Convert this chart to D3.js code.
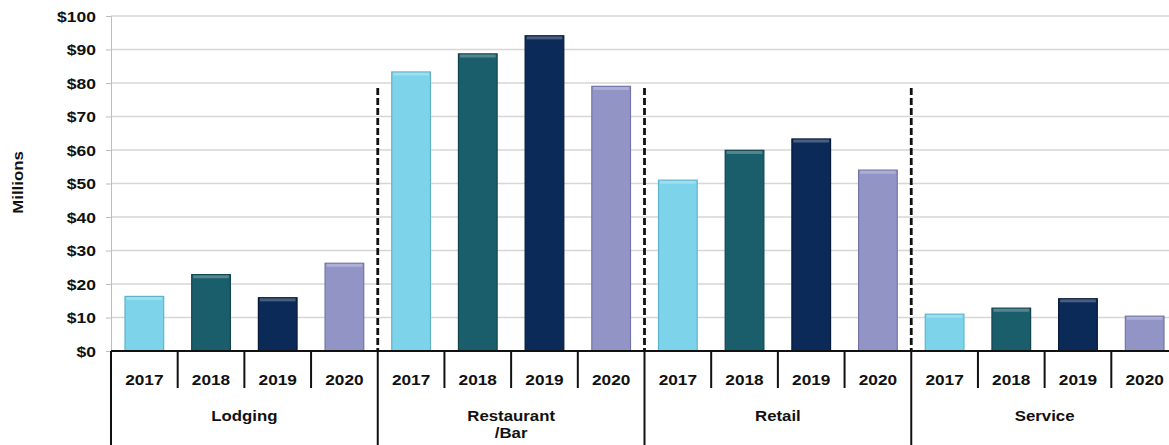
<!DOCTYPE html>
<html>
<head>
<meta charset="utf-8">
<script src="https://cdn.jsdelivr.net/npm/d3@7"></script>
<style>
  body { margin: 0; background: #fff; }
  text { font-family: "Liberation Sans", Arial, sans-serif; font-weight: bold; fill: #111; font-size: 14px; }
</style>
</head>
<body>
<svg id="chart"></svg>
<script>
var groups = ["Lodging", "Restaurant\n/Bar", "Retail", "Service"];
var years = ["2017", "2018", "2019", "2020"];
var v2017 = [16.3, 83.3, 51.0, 11.0];
var v2018 = [22.8, 88.7, 59.9, 12.8];
var v2019 = [15.9, 94.1, 63.3, 15.6];
var v2020 = [26.2, 79.0, 54.0, 10.4];
var yTicks = [0, 10, 20, 30, 40, 50, 60, 70, 80, 90, 100];
var colors = ["#7dd3ea", "#1b5e6b", "#0b2a58", "#9394c6"];
var edges = ["#5fb4cc", "#10454f", "#061a3b", "#7375a8"];

var series = [v2017, v2018, v2019, v2020];
var flatData = [];
groups.forEach(function(g, gi) {
  years.forEach(function(y, yi) {
    flatData.push({group: g, year: y, yi: yi, value: series[yi][gi]});
  });
});

var svg = d3.select("#chart").attr("width", 1169).attr("height", 445);
var plotLeft = 111, plotRight = 1178, plotTop = 16, plotBottom = 351;
var sx = 1.25; // text in the picture is stretched wide

var xGroup = d3.scaleBand().domain(groups).range([plotLeft, plotRight]);
var xYear = d3.scaleBand().domain(years).range([0, xGroup.bandwidth()])
  .paddingInner(0.42).paddingOuter(0.21);
var yScale = d3.scaleLinear().domain([0, 100]).range([plotBottom, plotTop]);

// gridlines
svg.append("g").selectAll("line")
  .data(yTicks.slice(1))
  .enter().append("line")
  .attr("x1", plotLeft).attr("x2", plotRight)
  .attr("y1", function(d) { return yScale(d); })
  .attr("y2", function(d) { return yScale(d); })
  .attr("stroke", "#d6d6d6").attr("stroke-width", 1.3);

// y axis
var yAxis = svg.append("g")
  .attr("transform", "translate(" + plotLeft + ",0)")
  .call(d3.axisLeft(yScale).tickValues(yTicks).tickSize(5).tickPadding(0)
    .tickFormat(function(d) { return "$" + d; }));
yAxis.selectAll("line").attr("stroke", "#bdbdbd");
yAxis.select(".domain").attr("stroke", "#bdbdbd");
yAxis.selectAll("text")
  .attr("x", null).attr("dy", null)
  .attr("transform", "translate(-15,5) scale(" + sx + ",1)")
  .attr("fill", "#111");
yAxis.attr("font-size", null).attr("font-family", null);

svg.append("text")
  .attr("transform", "translate(23," + (yScale(50) - 1) + ") rotate(-90) scale(1.2,1)")
  .attr("text-anchor", "middle")
  .text("Millions");

// bars
var bars = svg.append("g").selectAll(".bar")
  .data(flatData)
  .enter().append("g")
  .attr("transform", function(d) { return "translate(" + (xGroup(d.group) + xYear(d.year)) + ",0)"; });

bars.append("rect")
  .attr("x", 0)
  .attr("y", function(d) { return yScale(d.value); })
  .attr("width", xYear.bandwidth())
  .attr("height", function(d) { return plotBottom - yScale(d.value); })
  .attr("fill", function(d) { return colors[d.yi]; })
  .attr("stroke", function(d) { return edges[d.yi]; })
  .attr("stroke-width", 1.2);

bars.append("rect")
  .attr("x", 1.5)
  .attr("y", function(d) { return yScale(d.value) + 0.6; })
  .attr("width", xYear.bandwidth() - 3)
  .attr("height", 3)
  .attr("fill", "#fff").attr("opacity", 0.25);

// dashed separators
svg.append("g").selectAll("line")
  .data(groups.slice(1))
  .enter().append("line")
  .attr("x1", function(d) { return xGroup(d); })
  .attr("x2", function(d) { return xGroup(d); })
  .attr("y1", yScale(78.5)).attr("y2", plotBottom)
  .attr("stroke", "#111").attr("stroke-width", 2.8)
  .attr("stroke-dasharray", "7,3");

// category axis
var cat = svg.append("g");
cat.append("line")
  .attr("x1", plotLeft).attr("x2", plotRight)
  .attr("y1", plotBottom).attr("y2", plotBottom)
  .attr("stroke", "#111").attr("stroke-width", 2);

cat.selectAll(".yearSep")
  .data(flatData.filter(function(d) { return d.yi > 0; }))
  .enter().append("line")
  .attr("x1", function(d) { return xGroup(d.group) + xYear.step() * d.yi; })
  .attr("x2", function(d) { return xGroup(d.group) + xYear.step() * d.yi; })
  .attr("y1", plotBottom).attr("y2", 388)
  .attr("stroke", "#111").attr("stroke-width", 2);

cat.selectAll(".groupSep")
  .data(groups)
  .enter().append("line")
  .attr("x1", function(d) { return xGroup(d); })
  .attr("x2", function(d) { return xGroup(d); })
  .attr("y1", plotBottom).attr("y2", 445)
  .attr("stroke", "#111").attr("stroke-width", 2);

cat.selectAll(".yearLabel")
  .data(flatData)
  .enter().append("text")
  .attr("transform", function(d) {
    return "translate(" + (xGroup(d.group) + xYear(d.year) + xYear.bandwidth() / 2) + ",385) scale(1.15,1)";
  })
  .attr("text-anchor", "middle")
  .style("font-size", "15px")
  .text(function(d) { return d.year; });

cat.selectAll(".groupLabel")
  .data(groups)
  .enter().append("text")
  .attr("transform", function(d) {
    return "translate(" + (xGroup(d) + xGroup.bandwidth() / 2) + ",421) scale(1.2,1)";
  })
  .attr("text-anchor", "middle")
  .each(function(d) {
    var t = d3.select(this);
    d.split("\n").forEach(function(p, i) {
      t.append("tspan").attr("x", 0).attr("dy", i === 0 ? 0 : 17).text(p);
    });
  });
</script>
</body>
</html>
